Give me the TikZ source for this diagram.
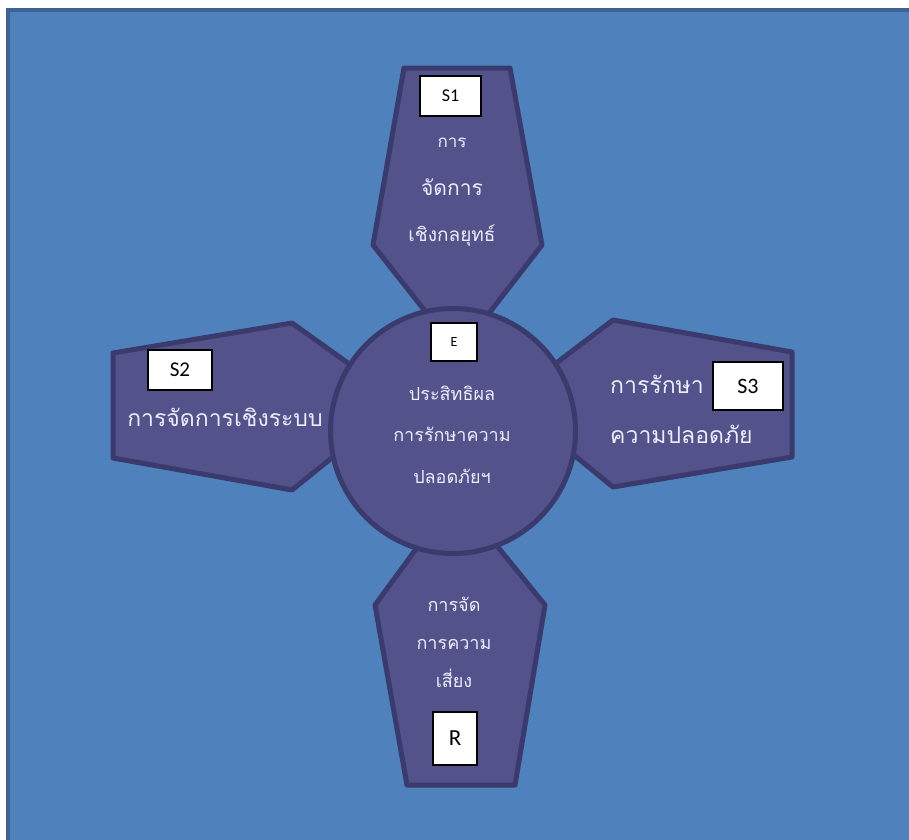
\documentclass[tikz,border=0pt]{standalone}
\usepackage{fontspec}
\newfontfamily\thai[Script=Thai]{Loma}
\newfontfamily\lab{Carlito}
\definecolor{bgfill}{HTML}{4F81BD}
\definecolor{bgline}{HTML}{3D6293}
\definecolor{petalfill}{HTML}{53528A}
\definecolor{petalline}{HTML}{3A3A6C}
\tikzset{
  petal/.style={draw=petalline, fill=petalfill, line width=5pt, line join=round},
  tag/.style={draw=black, fill=white, line width=1.8pt, inner sep=0pt, font=\lab, text=black},
  thtxt/.style={text=white!93!blue, font=\thai, inner sep=0pt, anchor=base},
}
\begin{document}
\begin{tikzpicture}[x=1pt,y=-1pt]
\useasboundingbox (0,0) rectangle (909,839);
\fill[white] (0,0) rectangle (909,839);
\draw[draw=bgline, fill=bgfill, line width=4pt] (8,10) rectangle (940,870);
% petals
\draw[petal] (404,68) -- (510,68) -- (542,245) -- (476,330) -- (440,330) -- (373,245) -- cycle;
\draw[petal] (113,353) -- (292,323) -- (380,386) -- (380,419) -- (292,490) -- (113,458) -- cycle;
\draw[petal] (613,320) -- (792,352) -- (792,457) -- (613,487) -- (530,419) -- (530,383) -- cycle;
\draw[petal] (375,605) -- (430,530) -- (484,530) -- (545,605) -- (515,785) -- (407,785) -- cycle;
% centre
\node[circle, draw=petalline, fill=petalfill, line width=5pt, minimum size=245pt, inner sep=0pt] (E) at (453,431) {};
% tags
\node[tag, minimum width=61pt, minimum height=40pt, font=\lab\fontsize{18}{18}\selectfont] (s1) at (450.5,96) {S1};
\node[tag, minimum width=64pt, minimum height=40pt, font=\lab\fontsize{21}{21}\selectfont] (s2) at (180,370) {S2};
\node[tag, minimum width=70pt, minimum height=48pt, font=\lab\fontsize{22}{22}\selectfont] (s3) at (748,386) {S3};
\node[tag, minimum width=46pt, minimum height=38pt, font=\lab\fontsize{14}{14}\selectfont] (e) at (454,342) {E};
\node[tag, minimum width=44pt, minimum height=53pt, font=\lab\fontsize{23}{23}\selectfont] (r) at (455,738.5) {R};
% top text
\node[thtxt, font=\thai\fontsize{17}{17}\selectfont] (t1) at (452,147) {การ};
\node[thtxt, font=\thai\fontsize{21}{21}\selectfont] (t2) at (452,195) {จัดการ};
\node[thtxt, font=\thai\fontsize{19}{19}\selectfont] (t3) at (452,241) {เชิงกลยุทธ์};
% left text
\node[thtxt, font=\thai\fontsize{23}{23}\selectfont] (l1) at (225,426) {การจัดการเชิงระบบ};
% right text
\node[thtxt, font=\thai\fontsize{23}{23}\selectfont, anchor=base west] (r1) at (610,393) {การรักษา};
\node[thtxt, font=\thai\fontsize{23}{23}\selectfont, anchor=base west] (r2) at (610,443) {ความปลอดภัย};
% centre text
\node[thtxt, font=\thai\fontsize{18}{18}\selectfont] (c1) at (452,400) {ประสิทธิผล};
\node[thtxt, font=\thai\fontsize{18}{18}\selectfont] (c2) at (452,441) {การรักษาความ};
\node[thtxt, font=\thai\fontsize{18}{18}\selectfont] (c3) at (452,483) {ปลอดภัยฯ};
% bottom text
\node[thtxt, font=\thai\fontsize{18}{18}\selectfont] (b1) at (454,611) {การจัด};
\node[thtxt, font=\thai\fontsize{18}{18}\selectfont] (b2) at (454,649) {การความ};
\node[thtxt, font=\thai\fontsize{18}{18}\selectfont] (b3) at (454,687) {เสี่ยง};
\end{tikzpicture}
\end{document}
